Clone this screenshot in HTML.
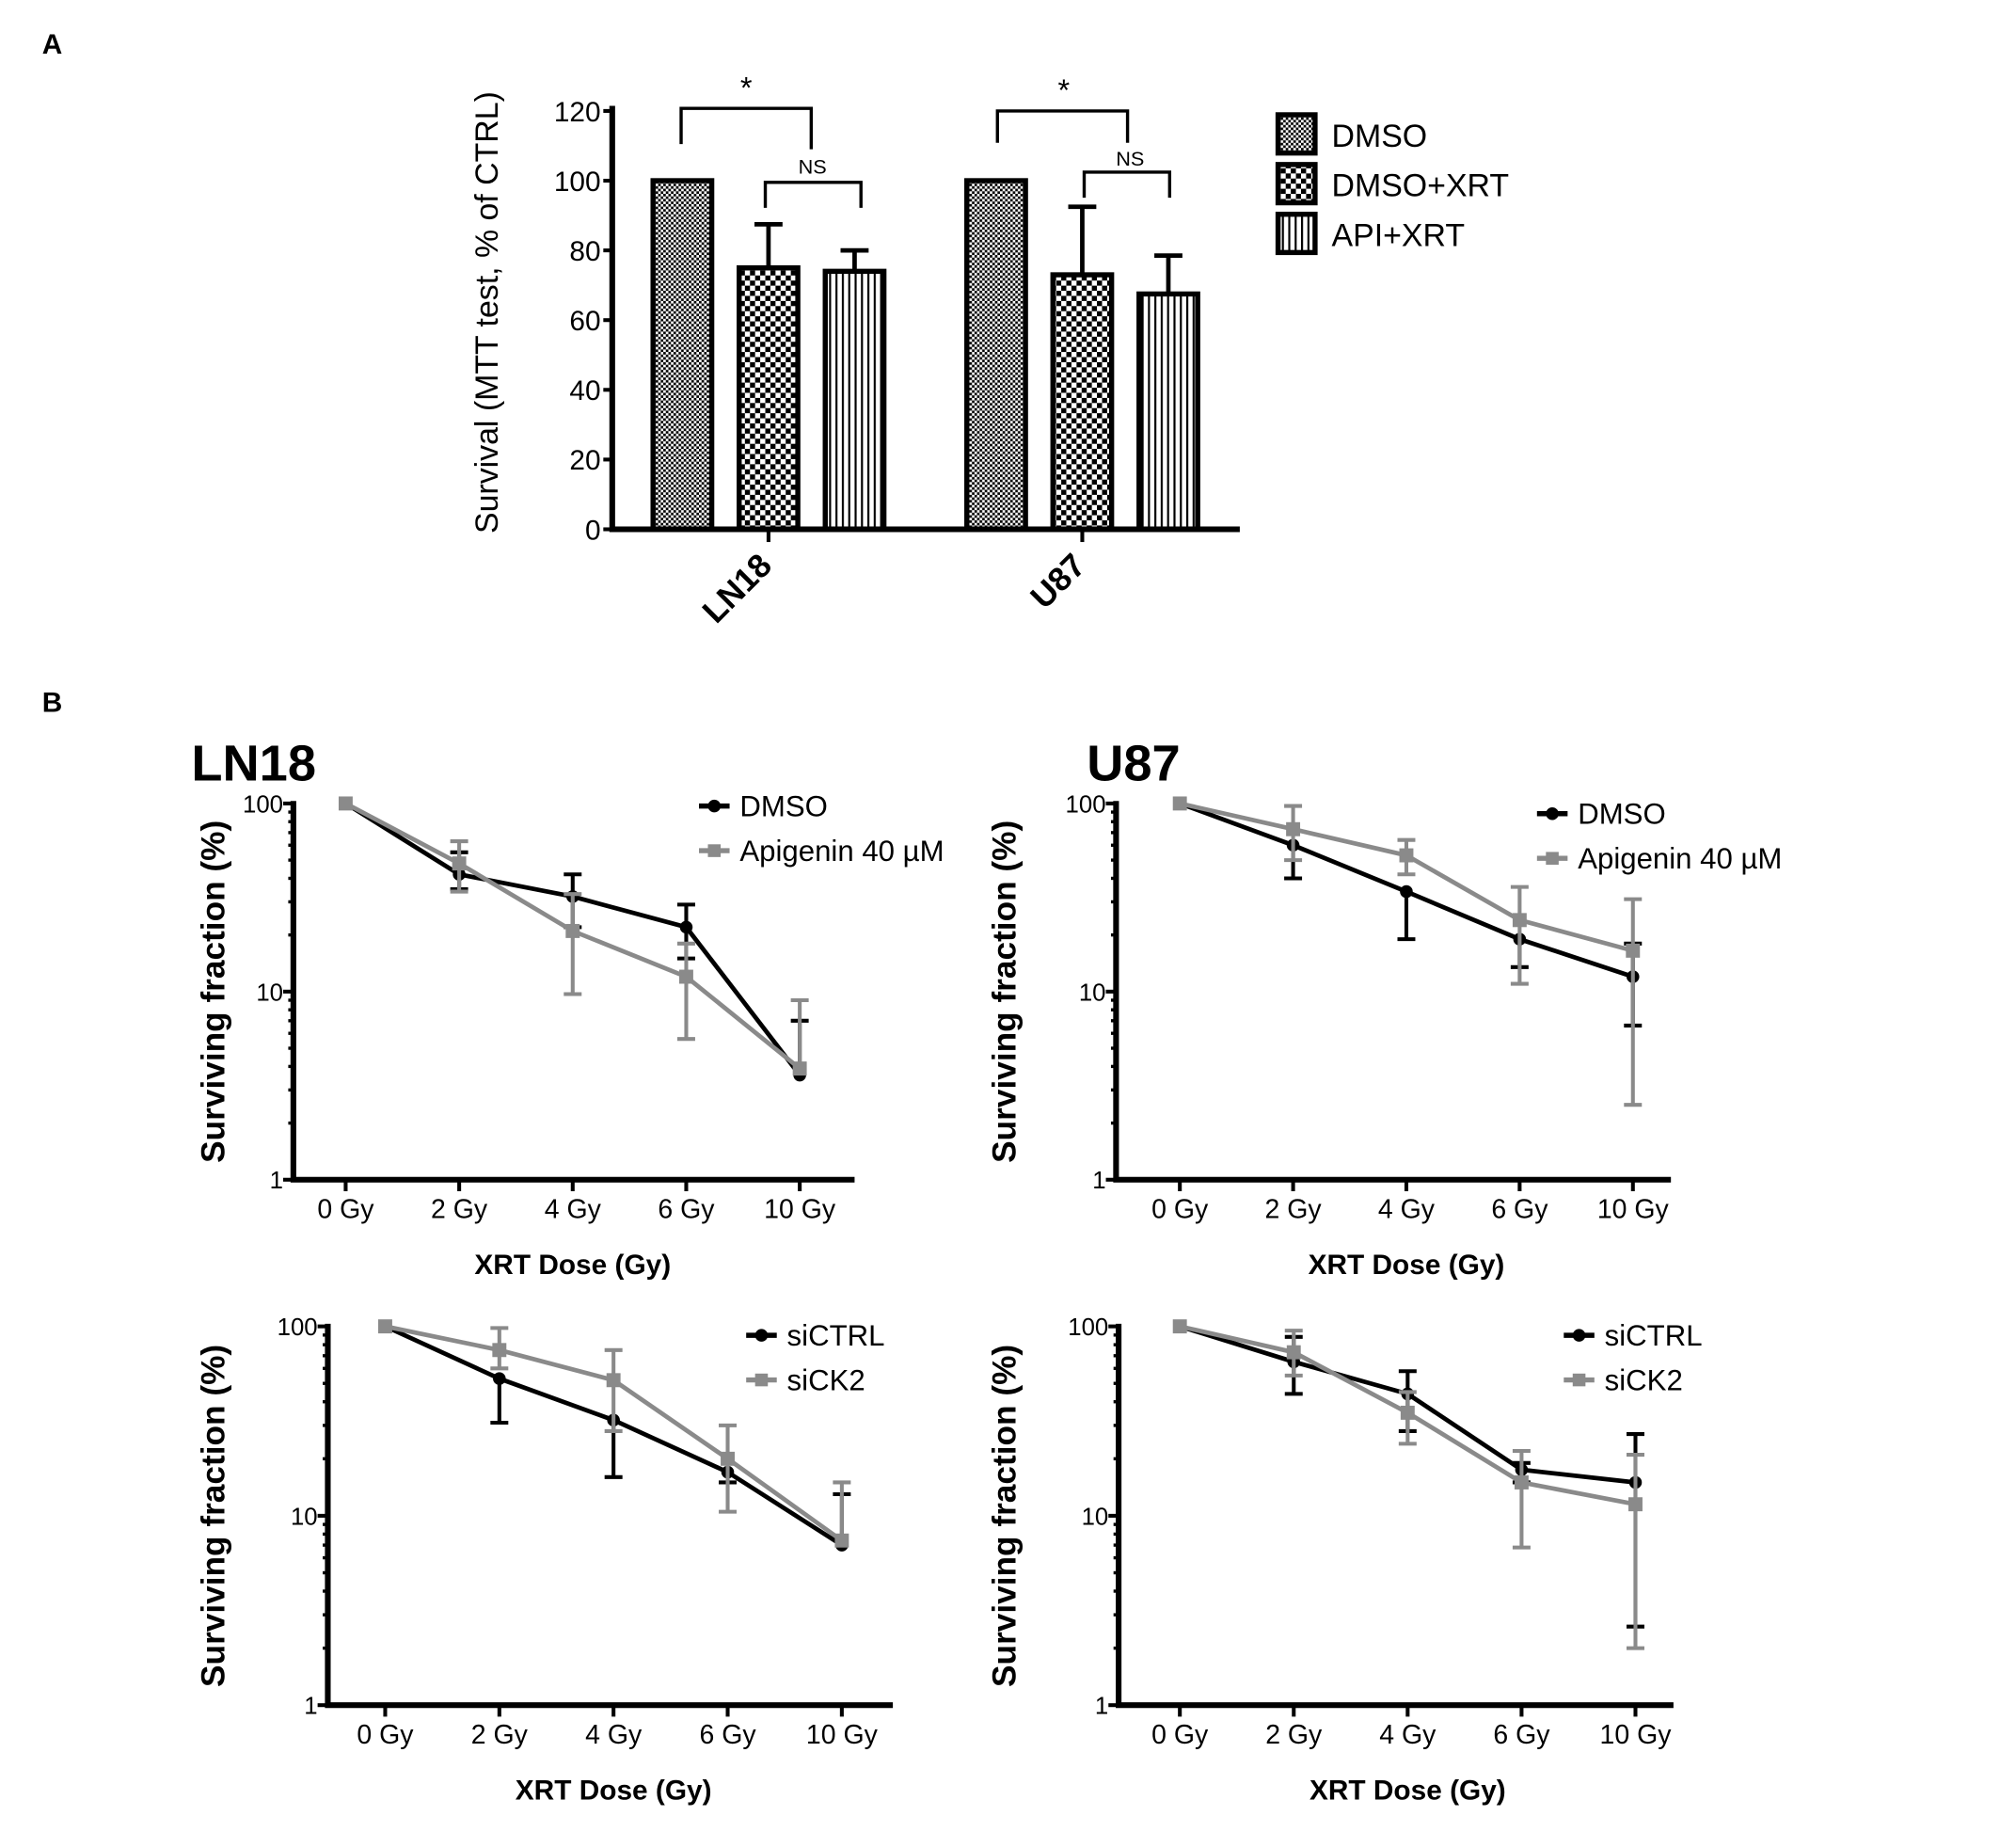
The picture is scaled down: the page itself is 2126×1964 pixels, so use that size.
<!DOCTYPE html>
<html><head><meta charset="utf-8"><style>
html,body{margin:0;padding:0;background:#fff}
svg{display:block}
text{font-family:"Liberation Sans",sans-serif}
</style></head><body>
<svg id="fig" width="2126" height="1964" viewBox="0 0 1568 1449" preserveAspectRatio="none" xmlns="http://www.w3.org/2000/svg">
<defs>
<pattern id="pFine" width="4" height="4" patternUnits="userSpaceOnUse"><rect width="4" height="4" fill="#fff"/><rect width="2" height="2" fill="#000"/><rect x="2" y="2" width="2" height="2" fill="#000"/></pattern>
<pattern id="pCheck" width="8" height="8" patternUnits="userSpaceOnUse"><rect width="8" height="8" fill="#fff"/><rect width="4" height="4" fill="#000"/><rect x="4" y="4" width="4" height="4" fill="#000"/></pattern>
<pattern id="pStripe" width="5" height="5" patternUnits="userSpaceOnUse"><rect width="5" height="5" fill="#fff"/><rect width="1.6" height="5" fill="#000"/></pattern>
</defs>
<text x="33" y="42" font-family="Liberation Serif" font-weight="bold" font-size="22">A</text>
<text x="33" y="558" font-family="Liberation Serif" font-weight="bold" font-size="22">B</text>
<g id="barChart"></g>
<g id="c1"></g>
<g id="c2"></g>
<g id="c3"></g>
<g id="c4"></g>
</svg>
<script>
// ---------- Panel A data ----------
const barGroups = ["LN18", "U87"];
const barSeries = ["DMSO", "DMSO+XRT", "API+XRT"];
const barValues = [[100, 75, 74], [100, 73, 67.5]];
const barErrors = [[0, 87.5, 80], [0, 92.5, 78.5]];
const barTicks = [0, 20, 40, 60, 80, 100, 120];

// ---------- Panel B data ----------
const doses = ["0 Gy", "2 Gy", "4 Gy", "6 Gy", "10 Gy"];
const logTicks = [1, 10, 100];
const ln18DmsoVals = [100, 42, 32, 22, 3.6];
const ln18DmsoHi = [100, 55, 42, 29, 7];
const ln18DmsoLo = [100, 35, 22, 15, 3.6];
const ln18ApiVals = [100, 48, 21, 12, 3.9];
const ln18ApiHi = [100, 63, 33, 18, 9];
const ln18ApiLo = [100, 34, 9.7, 5.6, 3.9];
const u87DmsoVals = [100, 60, 34, 19, 12];
const u87DmsoHi = [100, 60, 34, 19, 18];
const u87DmsoLo = [100, 40, 19, 13.5, 6.6];
const u87ApiVals = [100, 73, 53, 24, 16.5];
const u87ApiHi = [100, 97, 64, 36, 31];
const u87ApiLo = [100, 50, 42, 11, 2.5];
const ln18CtrlVals = [100, 53, 32, 17, 7];
const ln18CtrlHi = [100, 53, 32, 17, 13];
const ln18CtrlLo = [100, 31, 16, 15, 7];
const ln18CkVals = [100, 75, 52, 20, 7.4];
const ln18CkHi = [100, 98, 75, 30, 15];
const ln18CkLo = [100, 60, 28, 10.5, 7.4];
const u87CtrlVals = [100, 65, 44, 17.5, 15];
const u87CtrlHi = [100, 88, 58, 19, 27];
const u87CtrlLo = [100, 44, 28, 15, 2.6];
const u87CkVals = [100, 73, 35, 15, 11.5];
const u87CkHi = [100, 95, 45, 22, 21];
const u87CkLo = [100, 55, 24, 6.8, 2.0];

const NS = "http://www.w3.org/2000/svg";
function mk(tag, attrs, parent, txt) {
  const e = document.createElementNS(NS, tag);
  for (const k in attrs) e.setAttribute(k, attrs[k]);
  if (txt !== undefined) e.textContent = txt;
  parent.appendChild(e);
  return e;
}

// ---------- Bar chart ----------
(function () {
  const g = document.getElementById('barChart');
  const x0 = 480, y0 = 415, yTop = 87;
  const y = v => y0 - (v / 120) * (y0 - yTop);
  const groupStart = [512, 758], barW = 46, step = 67.5;
  const fills = ["url(#pFine)", "url(#pCheck)", "url(#pStripe)"];
  barTicks.forEach(t => {
    const l = mk('line', { x1: x0 - 7, x2: x0, y1: y(t), y2: y(t), stroke: '#000', 'stroke-width': 3 }, g);
    
    
    const tx = mk('text', { x: x0 - 9, y: y(t) + 8, 'text-anchor': 'end', 'font-size': 22 }, g, String(t));
    
    
  });
  barGroups.forEach((grp, gi) => {
    barSeries.forEach((s, si) => {
      const bx = groupStart[gi] + si * step;
      const v = barValues[gi][si], e = barErrors[gi][si];
      if (e > v) {
        const el = mk('path', { d: `M${bx + barW / 2},${y(v)}V${y(e)}M${bx + barW / 2 - 11},${y(e)}H${bx + barW / 2 + 11}`, stroke: '#000', 'stroke-width': 3.5, fill: 'none' }, g);
        
        
      }
      const r = mk('rect', { x: bx, y: y(v), width: barW, height: y0 - y(v), fill: fills[si], stroke: '#000', 'stroke-width': 4 }, g);
      
      
    });
    const cx = groupStart[gi] + step + barW / 2;
    const t = mk('line', { x1: cx, x2: cx, y1: y0, y2: y0 + 10, stroke: '#000', 'stroke-width': 3 }, g);
    
    
    const lb = mk('text', { x: 0, y: 0, 'text-anchor': 'end', 'font-size': 26, 'font-weight': 'bold', transform: `translate(${cx + 4},${y0 + 30}) rotate(-45)` }, g, grp);
    
    
  });
  mk('path', { d: `M${x0},${yTop - 4}V${y0}H972`, stroke: '#000', 'stroke-width': 4.5, fill: 'none' }, g);
  const br = [[534, 636, 85, 113, 117, '*', 585, 77], [600, 675, 143, 163, 163, 'NS', 637, 136],
              [782, 884, 87, 112, 112, '*', 834, 79], [850, 917, 135, 155, 155, 'NS', 886, 130]];
  br.forEach(b => {
    const p = mk('path', { d: `M${b[0]},${b[3]}V${b[2]}H${b[1]}V${b[4]}`, stroke: '#000', 'stroke-width': 2.5, fill: 'none' }, g);
    
    
    const st = mk('text', { x: b[6], y: b[7], 'text-anchor': 'middle', 'font-size': b[5] === '*' ? 24 : 16 }, g, b[5]);
    
    
  });
  const yl = mk('text', { x: 0, y: 0, 'text-anchor': 'middle', 'font-size': 25, transform: 'translate(390,245) rotate(-90)' }, g, 'Survival (MTT test, % of CTRL)');
  
  
  barSeries.forEach((s, i) => {
    const ly = 90 + i * 39;
    const r = mk('rect', { x: 1002, y: ly, width: 29, height: 30, fill: fills[i], stroke: '#000', 'stroke-width': 4 }, g);
    
    
    const t = mk('text', { x: 1044, y: ly + 25, 'font-size': 25 }, g, s);
    
    
  });
})();

// ---------- Line charts ----------
function lineChart(id, o) {
  const g = document.getElementById(id);
  const ax = o.ax, yT = o.yT, yB = o.yB;
  const y = v => yB - (Math.log10(v) / 2) * (yB - yT);
  const x = i => o.xs + i * o.dx;
  if (o.title) {
    const t = mk('text', { x: o.titleX, y: 612, 'font-size': 40, 'font-weight': 'bold' }, g, o.title);
    
    
  }
  [1, 10].forEach(d => { for (let k = 2; k <= 9; k++) mk('line', { x1: ax - 4, x2: ax, y1: y(d * k), y2: y(d * k), stroke: '#000', 'stroke-width': 2.5 }, g); });
  logTicks.forEach(t => {
    mk('line', { x1: ax - 8, x2: ax, y1: y(t), y2: y(t), stroke: '#000', 'stroke-width': 3 }, g);
    const tx = mk('text', { x: ax - 8, y: y(t) + 7, 'text-anchor': 'end', 'font-size': 19 }, g, String(t));
    
    
  });
  doses.forEach((d, i) => {
    mk('line', { x1: x(i), x2: x(i), y1: yB, y2: yB + 9, stroke: '#000', 'stroke-width': 3 }, g);
    const tx = mk('text', { x: x(i), y: yB + 30, 'text-anchor': 'middle', 'font-size': 21 }, g, d);
    
    
  });
  mk('path', { d: `M${ax},${yT - 2}V${yB}H${o.xEnd}`, stroke: '#000', 'stroke-width': 4.5, fill: 'none' }, g);
  const xt = mk('text', { x: o.xs + 2 * o.dx, y: yB + 74, 'text-anchor': 'middle', 'font-size': 22, 'font-weight': 'bold' }, g, 'XRT Dose (Gy)');
  
  
  const yl = mk('text', { x: 0, y: 0, 'text-anchor': 'middle', 'font-size': 26, 'font-weight': 'bold', transform: `translate(${o.ylX},${(yT + yB) / 2}) rotate(-90)` }, g, 'Surviving fraction (%)');
  
  
  o.series.forEach((s, si) => {
    const col = s.color;
    s.vals.forEach((v, i) => {
      const hi = s.hi[i], lo = s.lo[i];
      let d = '';
      if (hi > v) d += `M${x(i)},${y(v)}V${y(hi)}M${x(i) - 7},${y(hi)}H${x(i) + 7}`;
      if (lo < v) d += `M${x(i)},${y(v)}V${y(lo)}M${x(i) - 7},${y(lo)}H${x(i) + 7}`;
      if (d) {
        const e = mk('path', { d: d, stroke: col, 'stroke-width': 3, fill: 'none' }, g);
        
        
      }
    });
    const pl = mk('polyline', { points: s.vals.map((v, i) => `${x(i)},${y(v)}`).join(' '), stroke: col, 'stroke-width': 3.5, fill: 'none' }, g);
    
    
    s.vals.forEach((v, i) => {
      let m;
      if (s.sq) m = mk('rect', { x: x(i) - 5.5, y: y(v) - 5.5, width: 11, height: 11, fill: col }, g);
      else m = mk('circle', { cx: x(i), cy: y(v), r: 5, fill: col }, g);
      
      
    });
    const ly = o.legY + si * 35;
    mk('line', { x1: o.legX, x2: o.legX + 24, y1: ly, y2: ly, stroke: col, 'stroke-width': 4 }, g);
    if (s.sq) mk('rect', { x: o.legX + 7, y: ly - 5, width: 10, height: 10, fill: col }, g);
    else mk('circle', { cx: o.legX + 12, cy: ly, r: 5, fill: col }, g);
    const lt = mk('text', { x: o.legX + 32, y: ly + 8, 'font-size': 23 }, g, s.name);
    
    
  });
}
const BLK = '#000', GRY = '#8a8a8a';
lineChart('c1', { title: 'LN18', titleX: 150, ax: 230, yT: 630, yB: 925, xs: 271, dx: 89, xEnd: 670, ylX: 176, legX: 548, legY: 632,
  series: [{ name: 'DMSO', vals: ln18DmsoVals, hi: ln18DmsoHi, lo: ln18DmsoLo, color: BLK },
           { name: 'Apigenin 40 µM', vals: ln18ApiVals, hi: ln18ApiHi, lo: ln18ApiLo, color: GRY, sq: true }] });
lineChart('c2', { title: 'U87', titleX: 852, ax: 875, yT: 630, yB: 925, xs: 925, dx: 88.8, xEnd: 1310, ylX: 796, legX: 1205, legY: 638,
  series: [{ name: 'DMSO', vals: u87DmsoVals, hi: u87DmsoHi, lo: u87DmsoLo, color: BLK },
           { name: 'Apigenin 40 µM', vals: u87ApiVals, hi: u87ApiHi, lo: u87ApiLo, color: GRY, sq: true }] });
lineChart('c3', { ax: 257, yT: 1040, yB: 1337, xs: 302, dx: 89.5, xEnd: 700, ylX: 176, legX: 585, legY: 1047,
  series: [{ name: 'siCTRL', vals: ln18CtrlVals, hi: ln18CtrlHi, lo: ln18CtrlLo, color: BLK },
           { name: 'siCK2', vals: ln18CkVals, hi: ln18CkHi, lo: ln18CkLo, color: GRY, sq: true }] });
lineChart('c4', { ax: 877, yT: 1040, yB: 1337, xs: 925, dx: 89.3, xEnd: 1312, ylX: 796, legX: 1226, legY: 1047,
  series: [{ name: 'siCTRL', vals: u87CtrlVals, hi: u87CtrlHi, lo: u87CtrlLo, color: BLK },
           { name: 'siCK2', vals: u87CkVals, hi: u87CkHi, lo: u87CkLo, color: GRY, sq: true }] });
</script>
</body></html>
